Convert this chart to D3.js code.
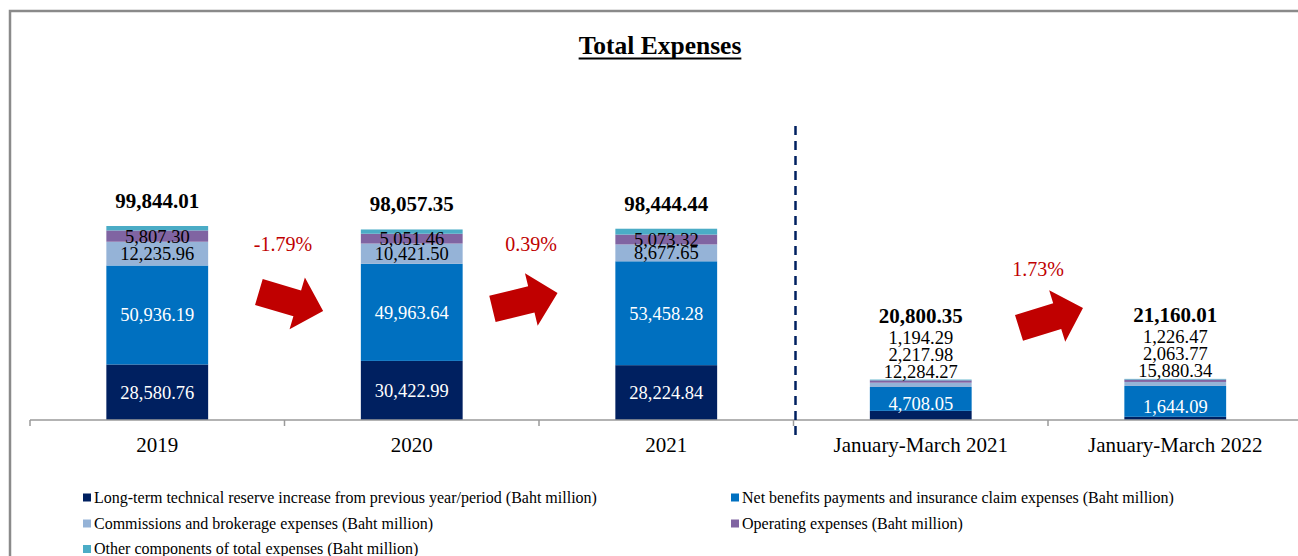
<!DOCTYPE html>
<html>
<head>
<meta charset="utf-8">
<script src="https://cdn.jsdelivr.net/npm/d3@7"></script>
<style>
  html, body { margin: 0; padding: 0; background: #fff; }
  svg { display: block; }
  text { font-family: "Liberation Serif", "Times New Roman", serif; }
</style>
</head>
<body>
<svg id="chart" width="1298" height="556"></svg>
<script>
// ---------- DATA ----------
const categories = ["2019", "2020", "2021", "January-March 2021", "January-March 2022"];
const reserveIncrease = [28580.76, 30422.99, 28224.84, 4708.05, 1644.09];
const netBenefits     = [50936.19, 49963.64, 53458.28, 12284.27, 15880.34];
const commissions     = [12235.96, 10421.50, 8677.65, 2217.98, 2063.77];
const operating       = [5807.30, 5051.46, 5073.32, 1194.29, 1226.47];
const otherComponents = [2283.80, 2197.76, 3010.35, 395.76, 345.34];
const totals          = [99844.01, 98057.35, 98444.44, 20800.35, 21160.01];
const changeLabels    = ["-1.79%", "0.39%", "1.73%"];
const changeFrom      = [0, 1, 3];
const seriesNames = [
  "Long-term technical reserve increase from previous year/period (Baht million)",
  "Net benefits payments and insurance claim expenses (Baht million)",
  "Commissions and brokerage expenses (Baht million)",
  "Operating expenses (Baht million)",
  "Other components of total expenses (Baht million)"
];
const seriesValues = [reserveIncrease, netBenefits, commissions, operating, otherComponents];
const colors = ["#002060", "#0070C0", "#95B3D7", "#8064A2", "#4BACC6"];
const labelColors = ["#ffffff", "#ffffff", "#000000", "#000000", null];

// ---------- LAYOUT ----------
const svg = d3.select("#chart");
const baseY = 420;
const x = d3.scaleBand().domain(categories).range([30, 1302.5]).padding(0);
const y = d3.scaleLinear().domain([0, 100000]).range([baseY, 225.7]);
const barW = x.bandwidth() * 0.4;
const fmt = d3.format(",.2f");

// frame
svg.append("rect").attr("x", 10).attr("y", 11).attr("width", 1320).attr("height", 600)
  .attr("fill", "none").attr("stroke", "#8a8a8a").attr("stroke-width", 2.5);

// title
const title = svg.append("text").attr("x", 660).attr("y", 53.5).attr("text-anchor", "middle")
  .attr("font-size", 25.5).attr("font-weight", "bold").attr("fill", "#000").text("Total Expenses");
const tw = title.node().getComputedTextLength();
svg.append("line").attr("x1", 660 - tw / 2).attr("x2", 660 + tw / 2).attr("y1", 58.5).attr("y2", 58.5)
  .attr("stroke", "#000").attr("stroke-width", 2);

// stacked data
const rows = categories.map((c, i) => {
  const r = { cat: c };
  seriesValues.forEach((s, k) => r["s" + k] = s[i]);
  return r;
});
const stack = d3.stack().keys(seriesValues.map((s, k) => "s" + k));
const layers = stack(rows);

const g = svg.append("g");
layers.forEach((layer, k) => {
  g.selectAll(null).data(layer).enter().append("rect")
    .attr("x", d => x(d.data.cat) + (x.bandwidth() - barW) / 2)
    .attr("width", barW)
    .attr("y", d => y(d[1]))
    .attr("height", d => y(d[0]) - y(d[1]))
    .attr("fill", colors[k]);
});

// axis
svg.append("line").attr("x1", 30).attr("x2", 1298).attr("y1", baseY).attr("y2", baseY)
  .attr("stroke", "#9a9a9a").attr("stroke-width", 1.5);
const bounds = categories.map(c => x(c));
svg.selectAll(null).data(bounds).enter().append("line")
  .attr("x1", d => d).attr("x2", d => d).attr("y1", baseY).attr("y2", baseY + 6)
  .attr("stroke", "#9a9a9a").attr("stroke-width", 1.5);
svg.selectAll(null).data(categories).enter().append("text")
  .attr("x", d => x(d) + x.bandwidth() / 2).attr("y", 451.5)
  .attr("text-anchor", "middle").attr("font-size", 21).attr("fill", "#000").text(d => d);

// dashed separator between annual and quarterly
svg.append("line").attr("x1", x(categories[3]) + 2).attr("x2", x(categories[3]) + 2)
  .attr("y1", 126).attr("y2", 435)
  .attr("stroke", "#002060").attr("stroke-width", 2.5).attr("stroke-dasharray", "9,6");

// segment labels
const quarterly = [false, false, false, true, true];
categories.forEach((c, i) => {
  const cx = x(c) + x.bandwidth() / 2;
  const top = y(totals[i]);
  if (!quarterly[i]) {
    for (let k = 0; k < 4; k++) {
      const d = layers[k][i];
      svg.append("text").attr("x", cx).attr("y", (y(d[0]) + y(d[1])) / 2)
        .attr("dy", "0.35em").attr("text-anchor", "middle").attr("font-size", 18.5)
        .attr("fill", labelColors[k]).text(fmt(seriesValues[k][i]));
    }
    svg.append("text").attr("x", cx).attr("y", top - 18).attr("text-anchor", "middle")
      .attr("font-size", 21).attr("font-weight", "bold").attr("fill", "#000").text(fmt(totals[i]));
  } else {
    const d0 = layers[0][i];
    svg.append("text").attr("x", cx).attr("y", (y(d0[0]) + y(d0[1])) / 2 - 5)
      .attr("text-anchor", "middle").attr("font-size", 18.5).attr("fill", "#fff")
      .text(fmt(seriesValues[0][i]));
    [1, 2, 3].forEach((k, j) => {
      svg.append("text").attr("x", cx).attr("y", top - 1.5 - j * 17)
        .attr("text-anchor", "middle").attr("font-size", 18.5).attr("fill", "#000")
        .text(fmt(seriesValues[k][i]));
    });
    svg.append("text").attr("x", cx).attr("y", top - 57).attr("text-anchor", "middle")
      .attr("font-size", 21).attr("font-weight", "bold").attr("fill", "#000").text(fmt(totals[i]));
  }
});

// change arrows + labels
const arrowShape = [[-33.5,-13.5],[6.5,-13.5],[6.5,-27],[33.5,0],[6.5,27],[6.5,13.5],[-33.5,13.5]];
const arrowLayout = [
  { dx: 6.5, cy: 301.5, rot: 16.5, tdx: -1.5, ty: 251 },
  { dx: -14, cy: 301, rot: -13.6, tdx: -8, ty: 251 },
  { dx: 3, cy: 318, rot: -17.3, tdx: -10, ty: 276 }
];
changeLabels.forEach((lab, j) => {
  const bx = x(categories[changeFrom[j] + 1]);
  const L = arrowLayout[j];
  svg.append("polygon")
    .attr("points", arrowShape.map(p => p.join(",")).join(" "))
    .attr("transform", `translate(${bx + L.dx},${L.cy}) rotate(${L.rot})`)
    .attr("fill", "#C00000");
  svg.append("text").attr("x", bx + L.tdx).attr("y", L.ty).attr("text-anchor", "middle")
    .attr("font-size", 20).attr("fill", "#C00000").text(lab);
});

// legend
const legendPos = [[83, 497.5], [731, 497.5], [83, 523.5], [731, 523.5], [83, 549]];
seriesNames.forEach((n, k) => {
  const [lx, ly] = legendPos[k];
  svg.append("rect").attr("x", lx).attr("y", ly - 4).attr("width", 8).attr("height", 8).attr("fill", colors[k]);
  svg.append("text").attr("x", lx + 11).attr("y", ly + 5).attr("font-size", 16).attr("fill", "#000").text(n);
});
</script>
</body>
</html>
